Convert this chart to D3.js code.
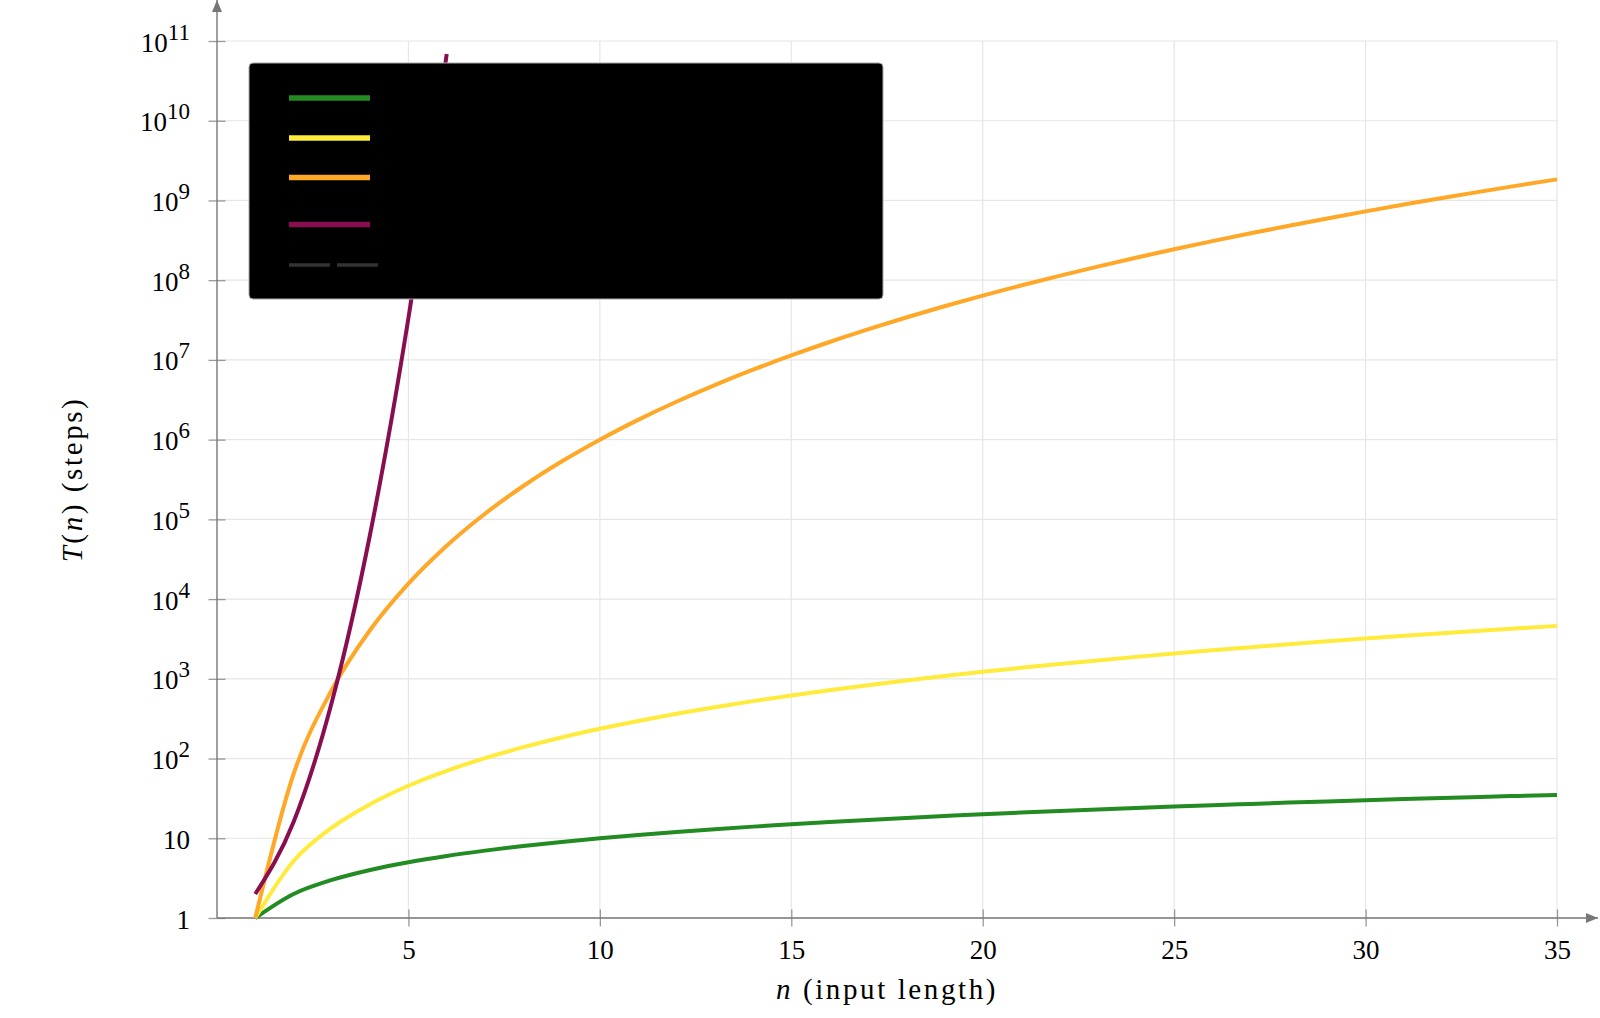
<!DOCTYPE html>
<html>
<head>
<meta charset="utf-8">
<script src="https://cdn.jsdelivr.net/npm/d3@7"></script>
<style>
  html, body { margin: 0; padding: 0; background: #fff; }
  svg text { font-family: "Liberation Serif", serif; fill: #000; }
</style>
</head>
<body>
<div class="chart_wrapper"></div>
<script>
// input sizes n
const nValues = [1, 2, 3, 4, 5, 6, 7, 8, 9, 10, 11, 12, 13, 14, 15, 16, 17, 18, 19, 20,
  21, 22, 23, 24, 25, 26, 27, 28, 29, 30, 31, 32, 33, 34, 35]

// T(n), one per n
const linearSteps = [1, 2, 3, 4, 5, 6, 7, 8, 9, 10, 11, 12, 13, 14, 15, 16, 17, 18, 19, 20,
  21, 22, 23, 24, 25, 26, 27, 28, 29, 30, 31, 32, 33, 34, 35]
const matmulSteps = [1, 5.18, 13.6, 26.8, 45.6, 70.2, 101, 139, 184, 236, 296, 364, 440, 525,
  618, 720, 832, 952, 1083, 1223, 1373, 1533, 1703, 1885, 2077, 2279, 2493, 2718, 2953, 3201,
  3459, 3729, 4012, 4307, 4614]
const sexticSteps = [1, 64, 729, 4096, 15625, 46656, 117649, 262144, 531441, 1000000,
  1771561, 2985984, 4826809, 7529536, 11390625, 16777216, 24137569, 34012224, 47045881,
  64000000, 85766121, 113379904, 148035889, 191102976, 244140625, 308915776, 387420489,
  481890304, 594823321, 729000000, 887503681, 1073741824, 1291467969, 1544804416, 1838265625]
const expN = [1, 2, 3, 4, 5, 6]
const expSteps = [2, 16, 512, 65536, 33554432, 68719476736]

const seriesColors = ["#228b22", "#ffeb3b", "#ffa726", "#880e4f"]

const xTicks = [5, 10, 15, 20, 25, 30, 35]
const yTicks = [1, 10, 1e2, 1e3, 1e4, 1e5, 1e6, 1e7, 1e8, 1e9, 1e10, 1e11]

const width = 1600, height = 1018
const margin = {top: 41, right: 43, bottom: 100, left: 217}

const svg = d3.select(".chart_wrapper")
  .append("svg")
    .attr("width", width)
    .attr("height", height)

const xScale = d3.scaleLinear()
  .domain([0, 35])
  .range([margin.left, width - margin.right])

const yScale = d3.scaleLog()
  .domain([1, 1e11])
  .range([height - margin.bottom, margin.top])

// grid
svg.append("g")
  .selectAll("line")
  .data(xTicks)
  .enter()
  .append("line")
    .attr("x1", d => xScale(d))
    .attr("x2", d => xScale(d))
    .attr("y1", yScale(1))
    .attr("y2", yScale(1e11))
    .attr("stroke", "#e6e6e6")
    .attr("stroke-width", 1.2)

svg.append("g")
  .selectAll("line")
  .data(yTicks)
  .enter()
  .append("line")
    .attr("x1", xScale(0))
    .attr("x2", xScale(35))
    .attr("y1", d => yScale(d))
    .attr("y2", d => yScale(d))
    .attr("stroke", "#e6e6e6")
    .attr("stroke-width", 1.2)

// axes
const axisColor = "#777"

const xAxis = d3.axisBottom(xScale)
  .tickValues(xTicks)
  .tickFormat(d3.format("d"))
  .tickSizeOuter(0)

const gx = svg.append("g")
  .attr("transform", "translate(0," + yScale(1) + ")")
  .call(xAxis)
gx.select(".domain").remove()
gx.selectAll(".tick line")
  .attr("y1", -8.5).attr("y2", 8.5)
  .attr("stroke", "#999").attr("stroke-width", 1.3)
gx.selectAll(".tick text")
  .attr("y", 41)
  .attr("dy", 0)
  .attr("font-size", 27)
  .attr("font-family", "Liberation Serif")

const yAxis = d3.axisLeft(yScale)
  .tickValues(yTicks)
  .tickFormat("")
  .tickSizeOuter(0)

const gy = svg.append("g")
  .attr("transform", "translate(" + xScale(0) + ",0)")
  .call(yAxis)
gy.select(".domain").remove()
gy.selectAll(".tick line")
  .attr("x1", -8.5).attr("x2", 8.5)
  .attr("stroke", "#999").attr("stroke-width", 1.3)

gy.selectAll(".tick")
  .append("text")
    .attr("x", -27)
    .attr("y", 10)
    .attr("text-anchor", "end")
    .attr("font-size", 27)
    .attr("font-family", "Liberation Serif")
    .attr("fill", "#000")
    .each(function (d) {
      const t = d3.select(this)
      const p = Math.round(Math.log10(d))
      if (p < 2) {
        t.text(d)
      } else {
        t.append("tspan").text("10")
        t.append("tspan").attr("dy", -12).attr("font-size", 23).text(p)
      }
    })

// axis lines with arrows
svg.append("defs").append("marker")
    .attr("id", "arrow")
    .attr("viewBox", "0 0 12 10")
    .attr("refX", 12).attr("refY", 5)
    .attr("markerWidth", 12).attr("markerHeight", 10)
    .attr("markerUnits", "userSpaceOnUse")
    .attr("orient", "auto")
  .append("path")
    .attr("d", "M0,0 L12,5 L0,10 Z")
    .attr("fill", axisColor)

svg.append("line")
  .attr("x1", xScale(0)).attr("x2", width - 2)
  .attr("y1", yScale(1)).attr("y2", yScale(1))
  .attr("stroke", axisColor).attr("stroke-width", 1.4)
  .attr("marker-end", "url(#arrow)")

svg.append("line")
  .attr("x1", xScale(0)).attr("x2", xScale(0))
  .attr("y1", yScale(1)).attr("y2", 0)
  .attr("stroke", axisColor).attr("stroke-width", 1.4)
  .attr("marker-end", "url(#arrow)")

// series
const line = d3.line()
  .x(d => xScale(d[0]))
  .y(d => yScale(d[1]))
  .curve(d3.curveMonotoneX)

const seriesData = [
  d3.zip(nValues, linearSteps),
  d3.zip(nValues, matmulSteps),
  d3.zip(nValues, sexticSteps),
  d3.zip(expN, expSteps)
]

svg.append("g")
  .selectAll("path")
  .data(seriesData)
  .enter()
  .append("path")
    .attr("d", line)
    .attr("fill", "none")
    .attr("stroke", (d, i) => seriesColors[i])
    .attr("stroke-width", 4)
    .attr("stroke-linejoin", "round")

// legend box
const legend = svg.append("g")
  .attr("transform", "translate(249,63)")

legend.append("rect")
  .attr("width", 634)
  .attr("height", 236)
  .attr("rx", 4)
  .attr("fill", "#000")
  .attr("stroke", "#aaa")
  .attr("stroke-width", 1)

const legendRows = [35, 75, 114.5, 161.5]
legend.selectAll(".legend_line")
  .data(seriesColors)
  .enter()
  .append("line")
    .attr("class", "legend_line")
    .attr("x1", 40).attr("x2", 121)
    .attr("y1", (d, i) => legendRows[i])
    .attr("y2", (d, i) => legendRows[i])
    .attr("stroke", d => d)
    .attr("stroke-width", 5.5)

legend.append("line")
  .attr("x1", 40).attr("x2", 129)
  .attr("y1", 202).attr("y2", 202)
  .attr("stroke", "#333")
  .attr("stroke-width", 3.5)
  .attr("stroke-dasharray", "41,7")

// axis titles
svg.append("text")
  .attr("x", xScale(17.5))
  .attr("y", 999)
  .attr("text-anchor", "middle")
  .attr("font-size", 29)
  .attr("letter-spacing", 2.6)
  .call(t => {
    t.append("tspan").attr("font-style", "italic").text("n")
    t.append("tspan").text(" (input length)")
  })

svg.append("text")
  .attr("transform", "translate(82," + yScale(Math.sqrt(1e11)) + ") rotate(-90)")
  .attr("text-anchor", "middle")
  .attr("font-size", 29)
  .attr("letter-spacing", 2.6)
  .call(t => {
    t.append("tspan").attr("font-style", "italic").text("T")
    t.append("tspan").text("(")
    t.append("tspan").attr("font-style", "italic").text("n")
    t.append("tspan").text(") (steps)")
  })
</script>
</body>
</html>
